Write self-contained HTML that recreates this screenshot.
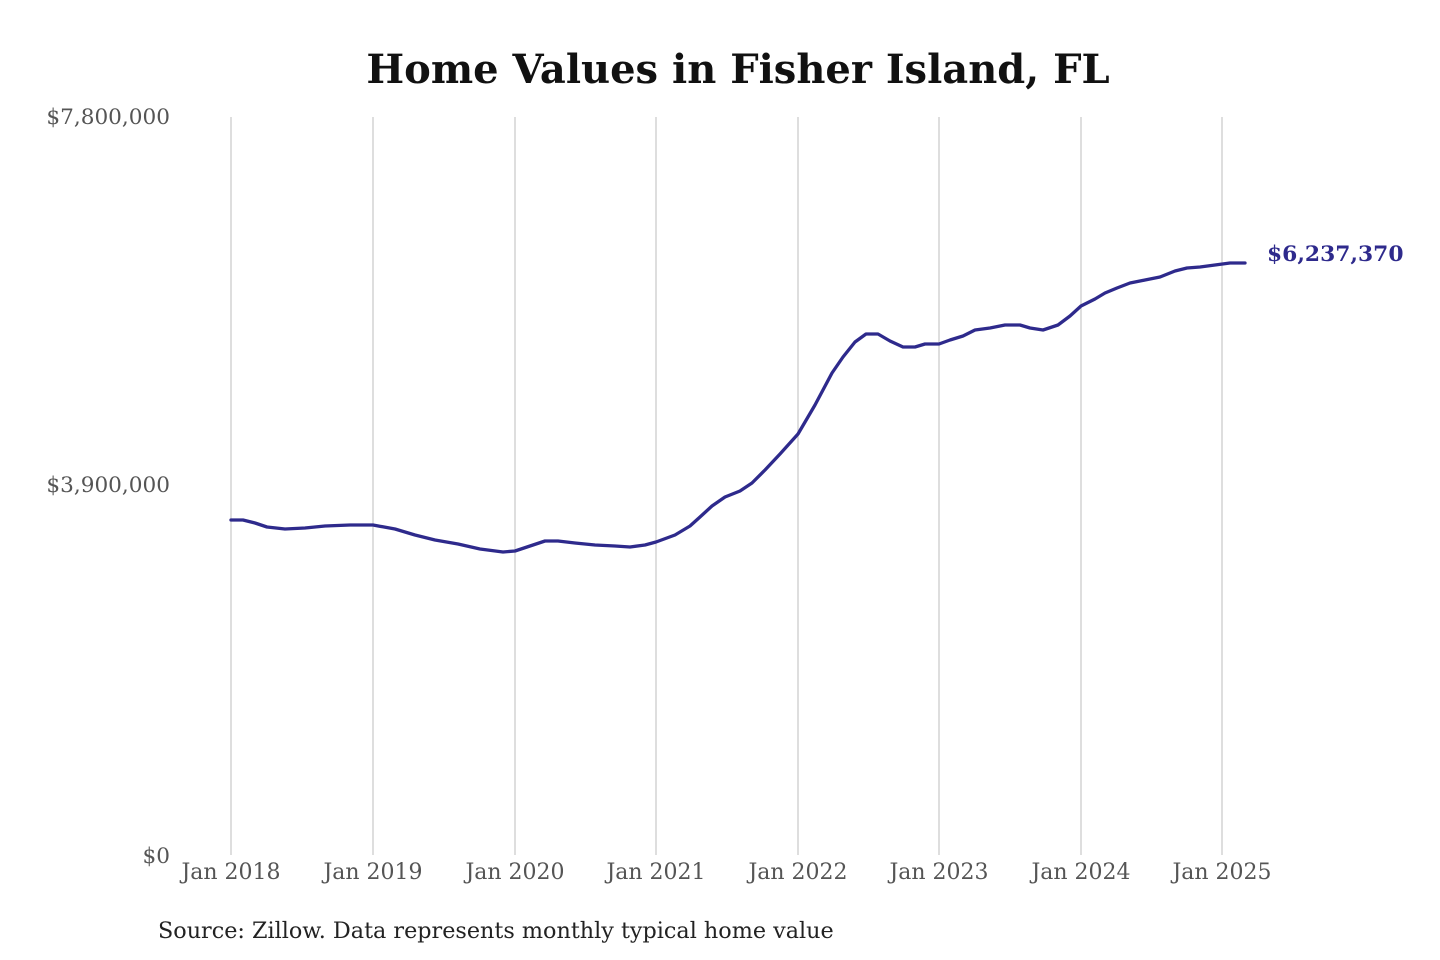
<!DOCTYPE html>
<html><head><meta charset="utf-8"><style>
html,body{margin:0;padding:0;background:#fff;}
svg{display:block;}
</style></head><body>
<svg width="1440" height="960" viewBox="0 0 1440 960" xmlns="http://www.w3.org/2000/svg">
<rect width="1440" height="960" fill="#fff"/>
<text x="738" y="83" text-anchor="middle" font-family="DejaVu Serif, Liberation Serif, serif" font-weight="bold" font-size="40" fill="#111">Home Values in Fisher Island, FL</text>
<g stroke="#c8c8c8" stroke-width="1.2">
<line x1="231" y1="117" x2="231" y2="855"/>
<line x1="373" y1="117" x2="373" y2="855"/>
<line x1="515" y1="117" x2="515" y2="855"/>
<line x1="656" y1="117" x2="656" y2="855"/>
<line x1="798" y1="117" x2="798" y2="855"/>
<line x1="939" y1="117" x2="939" y2="855"/>
<line x1="1081" y1="117" x2="1081" y2="855"/>
<line x1="1222" y1="117" x2="1222" y2="855"/>
</g>
<g font-family="DejaVu Serif, Liberation Serif, serif" font-size="21.6" fill="#555" text-anchor="end">
<text x="170" y="124">$7,800,000</text>
<text x="170" y="492">$3,900,000</text>
<text x="170" y="863">$0</text>
</g>
<g font-family="DejaVu Serif, Liberation Serif, serif" font-size="22" fill="#555" text-anchor="middle">
<text x="231" y="879">Jan 2018</text>
<text x="373" y="879">Jan 2019</text>
<text x="515" y="879">Jan 2020</text>
<text x="656" y="879">Jan 2021</text>
<text x="798" y="879">Jan 2022</text>
<text x="939" y="879">Jan 2023</text>
<text x="1081" y="879">Jan 2024</text>
<text x="1222" y="879">Jan 2025</text>
</g>
<polyline fill="none" stroke="#2e2a8c" stroke-width="3.3" stroke-linejoin="round" stroke-linecap="round" points="231,520 243,520 255,523 267,527 285,529 305,528 325,526 350,525 373,525 395,529 415,535 435,540 458,544 480,549 503,552 515,551 530,546 545,541 558,541 575,543 595,545 615,546 630,547 645,545 656,542 675,535 690,526 700,517 712,506 725,497 740,491 752,483 765,470 780,454 798,434 815,405 832,373 843,357 855,342 866,334 878,334 890,341 903,347 915,347 925,344 939,344 950,340 963,336 975,330 990,328 1005,325 1020,325 1030,328 1043,330 1058,325 1070,316 1081,306 1095,299 1105,293 1117,288 1130,283 1145,280 1160,277 1175,271 1187,268 1200,267 1215,265 1230,263 1245,263"/>
<text x="1267" y="261" font-family="DejaVu Serif, Liberation Serif, serif" font-weight="bold" font-size="21.8" fill="#2e2a8c">$6,237,370</text>
<text x="158" y="938" font-family="DejaVu Serif, Liberation Serif, serif" font-size="22.3" fill="#222">Source: Zillow. Data represents monthly typical home value</text>
</svg>
</body></html>
